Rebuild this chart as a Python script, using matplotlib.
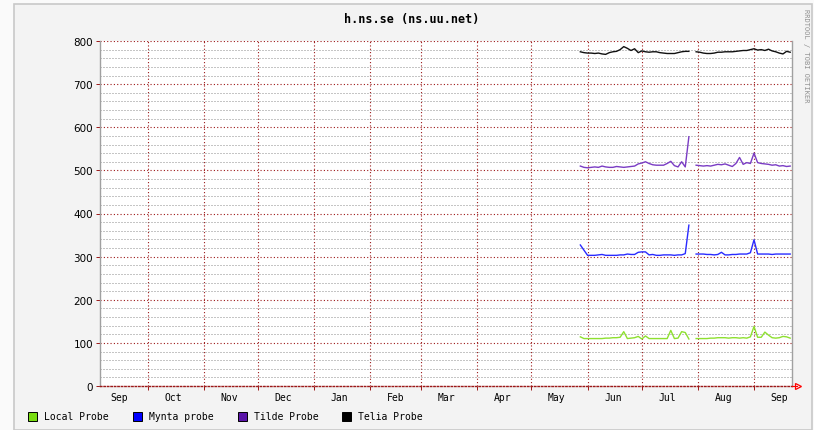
import numpy as np
import matplotlib.pyplot as plt
import matplotlib.dates as mdates
from matplotlib.ticker import MultipleLocator, NullFormatter
from matplotlib.patches import Rectangle

# samples every 2 days from 2005-05-28 to 2005-09-21, nan = no data
dates = np.arange(np.datetime64('2005-05-28'), np.datetime64('2005-09-23'), np.timedelta64(2, 'D'))
nan = np.nan

local = [114, 110, 110, 110, 110, 110, 110, 111, 111, 112, 112, 113, 126, 110, 111, 112,
         115, 109, 116, 110, 110, 110, 110, 110, 110, 129, 110, 111, 126, 124, 109, nan,
         110, 110, 110, 110, 111, 111, 112, 112, 112, 111, 112, 112, 111, 112, 111, 114,
         138, 113, 113, 125, 118, 112, 111, 112, 115, 114, 111]
mynta = [327, 315, 303, 303, 303, 304, 305, 303, 303, 303, 303, 304, 304, 306, 305, 305,
         310, 311, 311, 304, 305, 303, 303, 304, 304, 304, 303, 304, 304, 307, 373, nan,
         306, 306, 306, 305, 305, 304, 305, 310, 304, 304, 305, 305, 306, 306, 306, 309,
         339, 306, 306, 306, 306, 305, 306, 306, 306, 306, 306]
tilde = [510, 507, 506, 507, 508, 507, 510, 508, 507, 507, 509, 508, 507, 508, 509, 510,
         515, 517, 520, 516, 513, 512, 512, 512, 516, 521, 511, 508, 520, 508, 578, nan,
         512, 511, 510, 511, 510, 512, 514, 513, 515, 512, 509, 516, 530, 514, 518, 516,
         540, 518, 516, 515, 514, 512, 513, 510, 511, 509, 510]
telia = [775, 773, 772, 772, 771, 772, 770, 769, 773, 775, 776, 780, 787, 783, 778, 782,
         773, 777, 775, 774, 775, 775, 773, 772, 771, 771, 771, 773, 775, 776, 776, nan,
         775, 774, 772, 771, 771, 772, 774, 774, 775, 775, 775, 776, 777, 778, 778, 780,
         782, 779, 780, 778, 781, 777, 775, 772, 770, 776, 774]

labels = ['Local Probe', 'Mynta probe', 'Tilde Probe', 'Telia Probe']
colors = ['#78dc10', '#0000ff', '#5a14a8', '#000000']
line_colors = ['#8ee030', '#2a2aff', '#7a3cc4', '#101010']
series = [local, mynta, tilde, telia]

W, H = 814, 431
fig = plt.figure(figsize=(W / 100, H / 100), dpi=100, facecolor='#fafafa')
fig.patches.append(Rectangle((14 / W, 0), (812 - 14) / W, (H - 5) / H, transform=fig.transFigure,
                             facecolor='#f3f3f3', edgecolor='#c8c8c8', lw=1.2, zorder=-10))

ax = fig.add_axes([100 / W, 44 / H, 692 / W, 345 / H])
ax.set_facecolor('white')

for vals, c in zip(series, line_colors):
    ax.plot(dates, vals, color=c, lw=1.0, zorder=5)

ax.set_xlim(np.datetime64('2004-09-04T12'), np.datetime64('2005-09-22'))
ax.set_ylim(0, 800)

# grid
ax.xaxis.set_major_locator(mdates.MonthLocator())
ax.xaxis.set_major_formatter(NullFormatter())
ax.xaxis.set_minor_locator(mdates.MonthLocator(bymonthday=15))
ax.xaxis.set_minor_formatter(mdates.DateFormatter('%b'))
ax.yaxis.set_major_locator(MultipleLocator(100))
ax.yaxis.set_minor_locator(MultipleLocator(20))

red = '#9c1818'
ax.grid(which='minor', axis='y', color='#8c8c8c', lw=0.72, ls=(0, (1, 2)), zorder=1)
ax.grid(which='major', axis='both', color=red, lw=0.8, ls=(0, (1, 2)), zorder=2)

ax.tick_params(axis='x', which='major', length=3, color=red, width=0.7)
ax.tick_params(axis='x', which='minor', length=0, pad=4, labelsize=7)
ax.tick_params(axis='y', which='major', length=3, color=red, width=0.7, pad=2, labelsize=7.5)
ax.tick_params(axis='y', which='minor', length=0)
for t in ax.xaxis.get_minorticklabels():
    t.set_family('DejaVu Sans Mono')

for s in ['left', 'right']:
    ax.spines[s].set_color('#a0a0a0')
    ax.spines[s].set_linewidth(1.0)
ax.spines['top'].set_visible(False)
ax.spines['bottom'].set_color(red)
ax.spines['bottom'].set_linewidth(1.0)
ax.spines['bottom'].set_linestyle((0, (1, 1.5)))

# arrow at end of x axis
fig.add_artist(plt.Line2D([792 / W, 797 / W], [44 / H, 44 / H], color='red', lw=0.8))
fig.add_artist(plt.Line2D([798 / W], [44 / H], marker='>', markersize=5, markerfacecolor='none',
                          markeredgecolor='red', markeredgewidth=0.9, lw=0))

fig.text(412 / W, 1 - 20 / H, 'h.ns.se (ns.uu.net)', ha='center', va='center',
         family='DejaVu Sans Mono', fontweight='bold', fontsize=8.5)
fig.text(806 / W, 1 - 56 / H, 'RRDTOOL / TOBI OETIKER', rotation=-90, ha='center', va='center',
         family='DejaVu Sans Mono', fontsize=5, color='#909090')

# legend
lx = [28, 133, 238, 342]
for x, lab, c in zip(lx, labels, colors):
    fig.patches.append(Rectangle((x / W, (H - 422) / H), 9 / W, 9 / H, transform=fig.transFigure,
                                 facecolor=c, edgecolor='black', lw=0.7))
    fig.text((x + 16) / W, 1 - 417.5 / H, lab, ha='left', va='center',
             family='DejaVu Sans Mono', fontsize=7)

fig.savefig('out.png', dpi=100, facecolor=fig.get_facecolor())
